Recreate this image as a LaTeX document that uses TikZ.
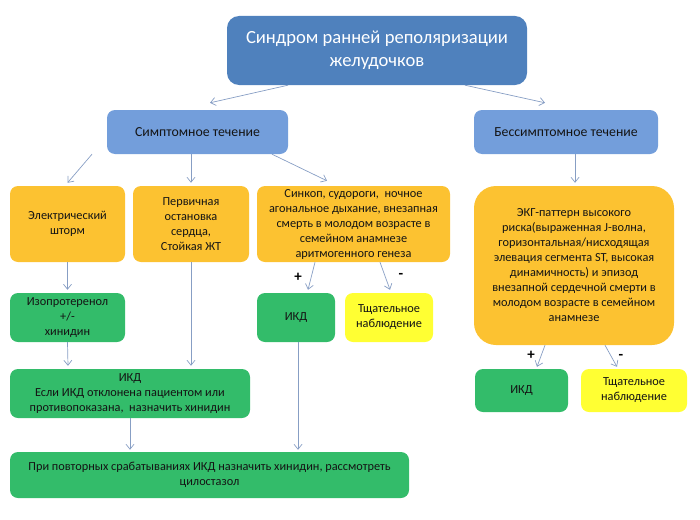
\documentclass[tikz,border=0pt]{standalone}
\usepackage{fontspec}
\setmainfont{Carlito}
\usetikzlibrary{arrows.meta}
\definecolor{topblue}{RGB}{79,129,189}
\definecolor{libl}{RGB}{115,158,219}
\definecolor{orng}{RGB}{252,194,49}
\definecolor{grn}{RGB}{51,188,106}
\definecolor{yel}{RGB}{255,255,51}
\definecolor{arrc}{RGB}{135,158,196}
\definecolor{txt}{RGB}{20,20,20}
\tikzset{
  boxbase/.style={draw=none, align=center, inner sep=2pt, text=txt,
    font=\fontsize{12.3}{15}\selectfont, rounded corners=8pt},
  topbox/.style={boxbase, fill=topblue, text=white, font=\fontsize{18.6}{23}\selectfont, rounded corners=12pt},
  bluebox/.style={boxbase, fill=libl, font=\fontsize{13.8}{16}\selectfont},
  orbox/.style={boxbase, fill=orng},
  grbox/.style={boxbase, fill=grn},
  yebox/.style={boxbase, fill=yel},
  arr/.style={draw=arrc, line width=0.7pt, -{Straight Barb[length=5pt,width=8pt]}},
  sign/.style={font=\fontsize{15}{15}\selectfont\bfseries, text=black, inner sep=0pt}
}
\begin{document}
\begin{tikzpicture}[x=1pt,y=-1pt]
\useasboundingbox (0,0) rectangle (700,519);
\node[topbox, minimum width=300pt, minimum height=69pt] (top) at (377,50.5) {Синдром ранней реполяризации\\желудочков};
\node[bluebox, minimum width=181pt, minimum height=44pt] (sym) at (197.5,132) {Симптомное течение};
\node[bluebox, minimum width=184pt, minimum height=44pt] (asym) at (566,132) {Бессимптомное течение};
\node[orbox, minimum width=115pt, minimum height=76pt] (elec) at (67.5,224) {Электрический\\шторм};
\node[orbox, minimum width=116pt, minimum height=76pt] (perv) at (191,224) {Первичная\\остановка\\сердца,\\Стойкая ЖТ};
\node[orbox, minimum width=193pt, minimum height=76pt] (sink) at (353.5,224) {Синкоп, судороги,\ \ ночное\\агональное дыхание, внезапная\\смерть в молодом возрасте в\\семейном анамнезе\\аритмогенного генеза};
\node[orbox, minimum width=200pt, minimum height=159pt, rounded corners=22pt] (ekg) at (574,265.5) {ЭКГ-паттерн высокого\\риска(выраженная J-волна,\\горизонтальная/нисходящая\\элевация сегмента ST, высокая\\динамичность) и эпизод\\внезапной сердечной смерти в\\молодом возрасте в семейном\\анамнезе};
\node[grbox, minimum width=115pt, minimum height=49pt] (izo) at (67.5,317.5) {Изопротеренол\\+/-\\хинидин};
\node[grbox, minimum width=78pt, minimum height=49pt] (ikd1) at (296,317.5) {ИКД};
\node[yebox, minimum width=88pt, minimum height=49pt] (tsh1) at (389,317.5) {Тщательное\\наблюдение};
\node[grbox, minimum width=93pt, minimum height=43pt] (ikd2) at (521.5,390.5) {ИКД};
\node[yebox, minimum width=106pt, minimum height=43pt] (tsh2) at (634,390.5) {Тщательное\\наблюдение};
\node[grbox, minimum width=240pt, minimum height=49pt] (ikdb) at (130,393.5) {ИКД\\Если ИКД отклонена пациентом или\\противопоказана,\ \ назначить хинидин};
\node[grbox, minimum width=399pt, minimum height=46pt] (fin) at (209.5,475) {При повторных срабатываниях ИКД назначить хинидин, рассмотреть\\цилостазол};
% connectors
\draw[arr] ([xshift=-89pt]top.south) -- ([xshift=12.5pt,yshift=7pt]sym.north);
\draw[arr] ([xshift=88pt]top.south) -- ([xshift=-21pt,yshift=7pt]asym.north);
\draw[arr] ([xshift=-105.5pt]sym.south) -- ([yshift=3pt]elec.north);
\draw[arr] ([xshift=-6.5pt]sym.south) -- ([yshift=3pt]perv.north);
\draw[arr] ([xshift=74.5pt]sym.south) -- ([xshift=-26.5pt,yshift=5pt]sink.north);
\draw[arr] ([xshift=9pt]asym.south) -- ([xshift=1pt,yshift=3pt]ekg.north);
\draw[arr] (elec.south) -- ([yshift=3pt]izo.north);
\draw[arr] ([xshift=-38.5pt]sink.south) -- ([xshift=12pt,yshift=3pt]ikd1.north);
\draw[arr] ([xshift=26.5pt]sink.south) -- ([xshift=1pt,yshift=3pt]tsh1.north);
\draw[arr] ([xshift=-29pt]ekg.south) -- ([xshift=15.5pt,yshift=2pt]ikd2.north);
\draw[arr] ([xshift=31pt]ekg.south) -- ([xshift=-17pt,yshift=2pt]tsh2.north);
\draw[arr] (izo.south) -- ([xshift=-62pt,yshift=3pt]ikdb.north);
\draw[arr] (perv.south) -- ([xshift=61pt,yshift=3pt]ikdb.north);
\draw[arr] (ikdb.south) -- ([xshift=-79.5pt,yshift=2pt]fin.north);
\draw[arr] ([xshift=2pt]ikd1.south) -- ([xshift=88.5pt,yshift=2pt]fin.north);
% signs
\node[sign] (p1) at (298,277) {+};
\node[sign] (m1) at (401,276) {-};
\node[sign] (p2) at (531,355) {+};
\node[sign] (m2) at (621,357) {-};
\end{tikzpicture}
\end{document}
